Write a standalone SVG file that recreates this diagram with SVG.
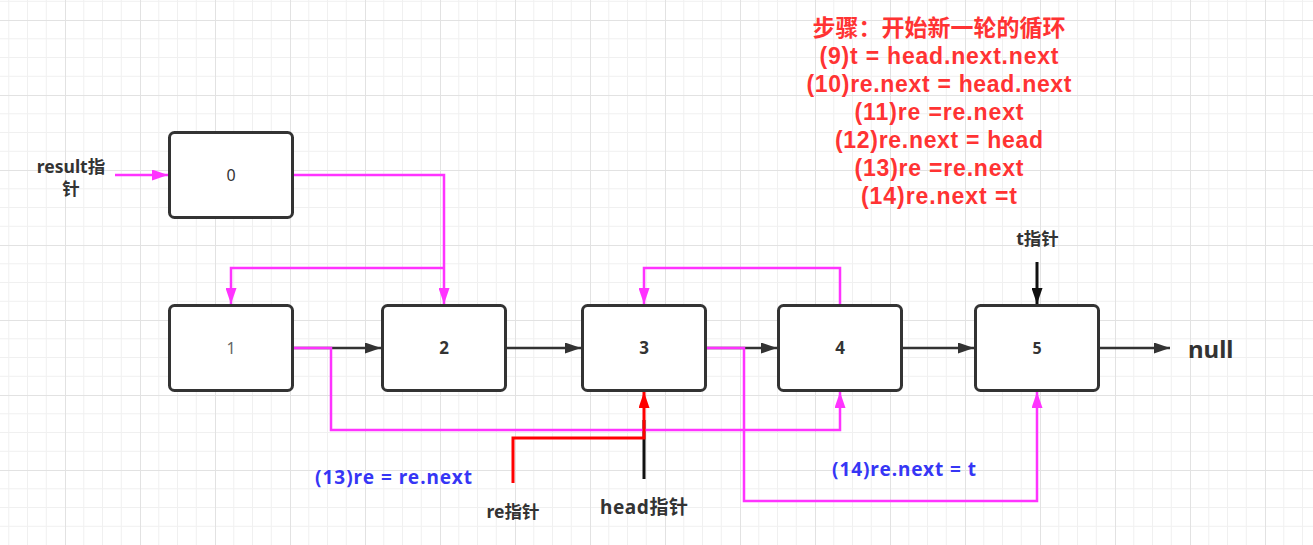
<svg xmlns="http://www.w3.org/2000/svg" width="1313" height="545" viewBox="0 0 1313 545">
<style>
.node rect{fill:#fff;stroke:#333;stroke-width:3}
.lbl{font-family:"Noto Sans","Noto Sans CJK SC",sans-serif;text-anchor:middle}
.b{font-weight:bold}
.dark{fill:#333}
.red{fill:#f33;font-weight:bold;font-size:23px;font-family:"Liberation Sans","Noto Sans CJK SC",sans-serif;text-anchor:middle}
.blue{fill:#3636f5;font-weight:bold;font-size:19px;text-anchor:start}
.blk{fill:none;stroke:#333;stroke-width:2.5}
.mag{fill:none;stroke:#f3f;stroke-width:2.5}
.redl{fill:none;stroke:#f00;stroke-width:3}
.ptr{fill:none;stroke:#111;stroke-width:3}
</style>
<defs>
<pattern id="grid" patternUnits="userSpaceOnUse" x="65" y="20" width="75" height="75">
<g stroke="#f0f0f0" stroke-width="1">
<line x1="18.75" y1="0" x2="18.75" y2="75"/><line x1="37.5" y1="0" x2="37.5" y2="75"/><line x1="56.25" y1="0" x2="56.25" y2="75"/>
<line x1="0" y1="18.75" x2="75" y2="18.75"/><line x1="0" y1="37.5" x2="75" y2="37.5"/><line x1="0" y1="56.25" x2="75" y2="56.25"/>
</g>
<g stroke="#e2e2e2" stroke-width="1"><line x1="0.5" y1="0" x2="0.5" y2="75"/><line x1="0" y1="0.5" x2="75" y2="0.5"/></g>
</pattern>
<marker id="aBlk" markerUnits="userSpaceOnUse" markerWidth="16" markerHeight="11" refX="16" refY="5.5" orient="auto"><path d="M0,0 L16,5.5 L0,11 z" fill="#333"/></marker>
<marker id="aMag" markerUnits="userSpaceOnUse" markerWidth="16" markerHeight="11" refX="16" refY="5.5" orient="auto"><path d="M0,0 L16,5.5 L0,11 z" fill="#f3f"/></marker>
<marker id="aRed" markerUnits="userSpaceOnUse" markerWidth="16" markerHeight="11" refX="16" refY="5.5" orient="auto"><path d="M0,0 L16,5.5 L0,11 z" fill="#f00"/></marker>
<marker id="aPtr" markerUnits="userSpaceOnUse" markerWidth="16" markerHeight="11" refX="16" refY="5.5" orient="auto"><path d="M0,0 L16,5.5 L0,11 z" fill="#111"/></marker>
</defs>
<rect width="1313" height="545" fill="#fff"/>
<rect width="1313" height="545" fill="url(#grid)"/>

<g id="connectors">
<path class="blk" d="M294,348 L381,348" marker-end="url(#aBlk)"/>
<path class="blk" d="M507,348 L581,348" marker-end="url(#aBlk)"/>
<path class="blk" d="M707,348 L777,348" marker-end="url(#aBlk)"/>
<path class="blk" d="M903,348 L974,348" marker-end="url(#aBlk)"/>
<path class="blk" d="M1100,348 L1170,348" marker-end="url(#aBlk)"/>
<path class="ptr" d="M1037,262 L1037,304" marker-end="url(#aPtr)"/>
<path class="ptr" d="M644,479 L644,420"/>
<path class="mag" d="M115,175 L168,175" marker-end="url(#aMag)"/>
<path class="mag" d="M294,175 L444,175 L444,304" marker-end="url(#aMag)"/>
<path class="mag" d="M444,268 L231,268 L231,304" marker-end="url(#aMag)"/>
<path class="mag" d="M294,348 L331,348 L331,430 L840,430 L840,392" marker-end="url(#aMag)"/>
<path class="mag" d="M840,304 L840,268 L644,268 L644,304" marker-end="url(#aMag)"/>
<path class="mag" d="M707,348 L744,348 L744,501 L1037,501 L1037,392" marker-end="url(#aMag)"/>
<path class="redl" d="M513,483 L513,438 L644,438 L644,392" marker-end="url(#aRed)"/>
</g>

<g id="node0" class="node"><rect x="169.5" y="132.5" width="123" height="85" rx="5"/><text class="lbl dark" x="231" y="181" font-size="16">0</text></g>
<g id="node1" class="node"><rect x="169.5" y="305.5" width="123" height="85" rx="5"/><text class="lbl" fill="#666" x="231" y="354" font-size="16">1</text></g>
<g id="node2" class="node"><rect x="382.5" y="305.5" width="123" height="85" rx="5"/><text class="lbl b dark" x="444" y="354" font-size="17">2</text></g>
<g id="node3" class="node"><rect x="582.5" y="305.5" width="123" height="85" rx="5"/><text class="lbl b dark" x="644" y="354" font-size="17">3</text></g>
<g id="node4" class="node"><rect x="778.5" y="305.5" width="123" height="85" rx="5"/><text class="lbl b dark" x="840" y="354" font-size="17">4</text></g>
<g id="node5" class="node"><rect x="975.5" y="305.5" width="123" height="85" rx="5"/><text class="lbl b dark" x="1037" y="354" font-size="16">5</text></g>

<g id="labels">
<text class="lbl b dark" x="71" y="173" font-size="17.5">result指</text>
<text class="lbl b dark" x="71" y="194.5" font-size="17.5">针</text>
<text class="lbl b dark" x="1037.5" y="244.5" font-size="17.5">t指针</text>
<text class="lbl b dark" x="513" y="518" font-size="17.5">re指针</text>
<text class="lbl b dark" x="644" y="513.5" font-size="19" textLength="88" lengthAdjust="spacing">head指针</text>
<text class="lbl b dark" x="1188" y="358" font-size="24" style="text-anchor:start">null</text>
<text class="lbl blue" x="315" y="483.5" textLength="157" lengthAdjust="spacing">(13)re = re.next</text>
<text class="lbl blue" x="832" y="475.5" textLength="144" lengthAdjust="spacing">(14)re.next = t</text>
</g>

<g id="steps">
<text class="red" x="939" y="36" font-size="22.5">步骤：开始新一轮的循环</text>
<text class="red" x="939" y="64" textLength="239" lengthAdjust="spacing">(9)t = head.next.next</text>
<text class="red" x="939" y="92" textLength="265" lengthAdjust="spacing">(10)re.next = head.next</text>
<text class="red" x="939" y="120" textLength="169" lengthAdjust="spacing">(11)re =re.next</text>
<text class="red" x="939" y="148" textLength="208" lengthAdjust="spacing">(12)re.next = head</text>
<text class="red" x="939" y="176" textLength="169" lengthAdjust="spacing">(13)re =re.next</text>
<text class="red" x="939" y="204" textLength="156" lengthAdjust="spacing">(14)re.next =t</text>
</g>
</svg>
